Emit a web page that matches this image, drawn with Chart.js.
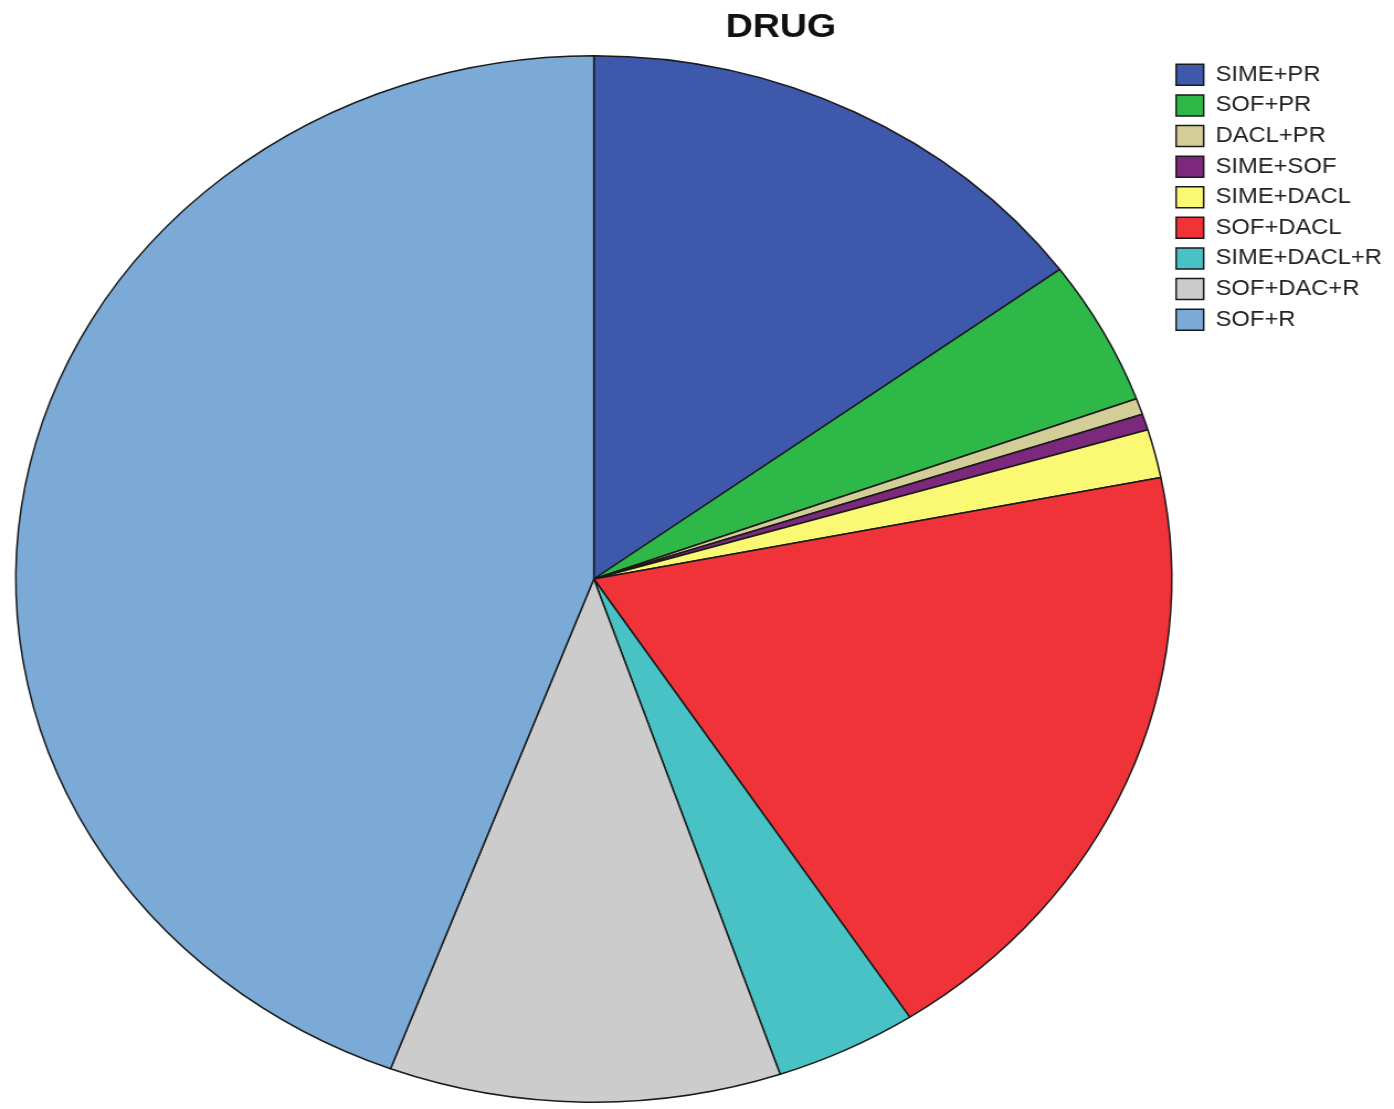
<!DOCTYPE html>
<html lang="en">
<head>
  <meta charset="UTF-8">
  <title>DRUG</title>
  <script src="https://cdn.jsdelivr.net/npm/chart.js"></script>
  <style>
    html, body {
      margin: 0;
      padding: 0;
      background: #fff;
      overflow: hidden;
    }
    /* the original picture is stretched sideways, so the whole chart is too */
    .wrap {
      width: 1262px;
      height: 1109px;
      transform: scaleX(1.1046);
      transform-origin: 0 0;
    }
  </style>
</head>
<body>
  <div class="wrap">
    <canvas id="pieChart" width="1262" height="1109"></canvas>
  </div>

  <script>
    const tituloGrafico = 'DRUG';
    const categorias = ['SIME+PR', 'SOF+PR', 'DACL+PR', 'SIME+SOF', 'SIME+DACL', 'SOF+DACL', 'SIME+DACL+R', 'SOF+DAC+R', 'SOF+R'];
    const pacientes = [30, 9, 1, 1, 3, 38, 8, 22, 89];
    const cores = ['#3e58ac', '#2eb848', '#d3ce97', '#7c287d', '#fbf873', '#ef3338', '#48c2c5', '#cccccc', '#7aaad5'];

    const fonte = '"Liberation Sans", Arial, sans-serif';

    // title drawn by hand: it is not centred on the canvas in the original
    const tituloPlugin = {
      id: 'tituloPlugin',
      afterLayout(chart) {
        // legend sits a little closer to the pie than the layout allows
        chart.legend.left -= 6;
        chart.legend.right -= 6;
      },
      afterDraw(chart) {
        const c = chart.ctx;
        c.save();
        c.font = 'bold 34px ' + fonte;
        c.fillStyle = '#111';
        c.textAlign = 'center';
        c.textBaseline = 'middle';
        c.fillText(tituloGrafico, 707, 28);
        c.restore();
      }
    };

    const ctx = document.getElementById('pieChart').getContext('2d');
    const pieChart = new Chart(ctx, {
      type: 'pie',
      data: {
        labels: categorias,
        datasets: [{
          data: pacientes,
          backgroundColor: cores,
          borderColor: '#1a1a1a',
          borderWidth: 1.5
        }]
      },
      options: {
        responsive: false,
        animation: false,
        devicePixelRatio: 1,
        layout: {
          padding: { left: 13.6, right: 0, top: 55, bottom: 6 }
        },
        plugins: {
          legend: {
            display: true,
            position: 'right',
            align: 'start',
            maxWidth: 200.4,
            labels: {
              boxWidth: 25,
              boxHeight: 21,
              padding: 9.1,
              color: '#222',
              font: { family: fonte, size: 21.5 }
            }
          },
          tooltip: { enabled: false },
          title: { display: false }
        }
      },
      plugins: [tituloPlugin]
    });
  </script>
</body>
</html>
